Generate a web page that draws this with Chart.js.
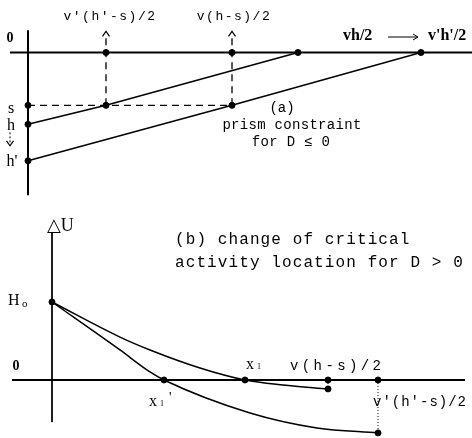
<!DOCTYPE html>
<html>
<head>
<meta charset="utf-8">
<script src="https://cdn.jsdelivr.net/npm/chart.js@4.4.0/dist/chart.umd.min.js"></script>
<style>
  html, body { margin: 0; padding: 0; background: #fff; }
  canvas { display: block; }
</style>
</head>
<body>
<canvas id="chartA" width="472" height="200"></canvas>
<canvas id="chartB" width="472" height="238"></canvas>
<script>
// (a) prism constraint for D <= 0
const aMarks = [0.78, 2.04, 2.70, 3.93];          // v'(h'-s)/2, v(h-s)/2, vh/2, v'h'/2
const aMarkLabels = ["v'(h'-s)/2", "v(h-s)/2", "vh/2", "v'h'/2"];
const aLevels = [-1.0, -1.36, -2.05];              // s, h, h'
const aLevelLabels = ['s', 'h', "h'"];

// (b) change of critical activity location for D > 0
const bH0 = 1.0;
const bRoots = [1.12, 1.93];                       // x1', x1
const bEnds = [2.76, 3.26];                        // v(h-s)/2, v'(h'-s)/2
const bEndLabels = ['v(h-s)/2', "v'(h'-s)/2"];
const bUpperX = [0, 0.68, 0.98, 1.48, 1.93, 2.31, 2.76];
const bUpperY = [1.0, 0.55, 0.385, 0.154, 0, -0.064, -0.115];
const bLowerX = [0, 0.68, 0.98, 1.12, 1.98, 2.65, 3.26];
const bLowerY = [1.0, 0.385, 0.103, 0, -0.423, -0.615, -0.679];

const MONO = '"Liberation Mono", "DejaVu Sans Mono", monospace';
const SERIF = '"Liberation Serif", "DejaVu Serif", serif';

Chart.defaults.animation = false;
Chart.defaults.color = '#000';

function seg(points, opts) {
  return Object.assign({
    data: points,
    showLine: true,
    borderColor: '#000',
    backgroundColor: '#000',
    borderWidth: 1.5,
    pointRadius: 0,
    clip: false
  }, opts || {});
}

function dots(points) {
  return {
    data: points,
    showLine: false,
    pointRadius: 3,
    pointBackgroundColor: '#000',
    pointBorderColor: '#000',
    clip: false
  };
}

function hiddenScales(xMin, xMax, yMin, yMax) {
  return {
    x: { type: 'linear', min: xMin, max: xMax, display: false },
    y: { type: 'linear', min: yMin, max: yMax, display: false }
  };
}

function text(ctx, str, x, y, font, align, spacing) {
  ctx.save();
  ctx.font = font;
  ctx.textAlign = align || 'center';
  ctx.textBaseline = 'middle';
  ctx.letterSpacing = (spacing || 0) + 'px';
  ctx.fillStyle = '#000';
  ctx.fillText(str, x, y);
  ctx.restore();
}

function chevron(ctx, x, y, dir) {
  // open arrow head, tip at (x, y); dir = -1 points up, 1 points down
  ctx.save();
  ctx.strokeStyle = '#000';
  ctx.lineWidth = 1.2;
  ctx.setLineDash([]);
  ctx.beginPath();
  ctx.moveTo(x - 3.5, y - dir * 5);
  ctx.lineTo(x, y);
  ctx.lineTo(x + 3.5, y - dir * 5);
  ctx.stroke();
  ctx.restore();
}

// ---------- chart (a) ----------
const s = aLevels[0], h = aLevels[1], hp = aLevels[2];
const arrowTop = 0.34;

const labelsA = {
  id: 'labelsA',
  afterDraw(chart) {
    const ctx = chart.ctx;
    const X = v => chart.scales.x.getPixelForValue(v);
    const Y = v => chart.scales.y.getPixelForValue(v);

    // arrow heads on the dashed verticals
    chevron(ctx, X(aMarks[0]), Y(arrowTop + 0.06), -1);
    chevron(ctx, X(aMarks[1]), Y(arrowTop + 0.06), -1);

    text(ctx, aMarkLabels[0], X(aMarks[0]) + 4, 17, '13px ' + MONO, 'center', 1.5);
    text(ctx, aMarkLabels[1], X(aMarks[1]) + 2, 17, '13px ' + MONO, 'center', 1.5);

    // vh/2 --> v'h'/2
    text(ctx, aMarkLabels[2], 343, 36, 'bold 16px ' + SERIF, 'left');
    ctx.save();
    ctx.strokeStyle = '#000';
    ctx.lineWidth = 1;
    ctx.beginPath();
    ctx.moveTo(388, 37);
    ctx.lineTo(418, 37);
    ctx.moveTo(413, 34);
    ctx.lineTo(418, 37);
    ctx.lineTo(413, 40);
    ctx.stroke();
    ctx.restore();
    text(ctx, aMarkLabels[3], 428, 36, 'bold 16px ' + SERIF, 'left');

    text(ctx, '0', 10, 38, 'bold 14px ' + SERIF);
    text(ctx, aLevelLabels[0], 11, Y(s) + 3, '16px ' + SERIF);
    text(ctx, aLevelLabels[1], 11, Y(h) + 1, '16px ' + SERIF);
    text(ctx, aLevelLabels[2], 12, Y(hp) + 1, '16px ' + SERIF);

    // h moves down to h'
    ctx.save();
    ctx.strokeStyle = '#000';
    ctx.lineWidth = 1;
    ctx.setLineDash([2, 2]);
    ctx.beginPath();
    ctx.moveTo(10, Y(h) + 8);
    ctx.lineTo(10, Y(hp) - 17);
    ctx.stroke();
    ctx.restore();
    chevron(ctx, 10, Y(hp) - 15, 1);

    text(ctx, '(a)', 282, 108, '14px ' + MONO);
    text(ctx, 'prism constraint', 292, 125, '14px ' + MONO, 'center', 0.3);
    text(ctx, 'for D \u2264 0', 291, 142, '14px ' + MONO, 'center', 0.3);
  }
};

new Chart(document.getElementById('chartA'), {
  type: 'scatter',
  data: {
    datasets: [
      seg([{ x: -0.18, y: 0 }, { x: 4.44, y: 0 }], { borderWidth: 2 }),
      seg([{ x: 0, y: 0.42 }, { x: 0, y: -2.70 }], { borderWidth: 2 }),
      seg([{ x: 0, y: h }, { x: aMarks[0], y: s }, { x: aMarks[2], y: 0 }]),
      seg([{ x: 0, y: hp }, { x: aMarks[1], y: s }, { x: aMarks[3], y: 0 }]),
      seg([{ x: 0, y: s }, { x: aMarks[1], y: s }], { borderDash: [7, 5], borderWidth: 1.3 }),
      seg([{ x: aMarks[0], y: s }, { x: aMarks[0], y: arrowTop }], { borderDash: [7, 5], borderWidth: 1.3 }),
      seg([{ x: aMarks[1], y: s }, { x: aMarks[1], y: arrowTop }], { borderDash: [7, 5], borderWidth: 1.3 }),
      dots(aMarks.map(v => ({ x: v, y: 0 }))
        .concat(aLevels.map(v => ({ x: 0, y: v })))
        .concat([{ x: aMarks[0], y: s }, { x: aMarks[1], y: s }]))
    ]
  },
  options: {
    responsive: false,
    devicePixelRatio: 1,
    layout: { padding: 0, autoPadding: false },
    scales: hiddenScales(-0.28, 4.44, -2.792, 0.994),
    plugins: { legend: { display: false }, tooltip: { enabled: false } }
  },
  plugins: [labelsA]
});

// ---------- chart (b) ----------
const labelsB = {
  id: 'labelsB',
  afterDraw(chart) {
    const ctx = chart.ctx;
    const X = v => chart.scales.x.getPixelForValue(v);
    const Y = v => chart.scales.y.getPixelForValue(v);

    text(ctx, '\u25B3U', 47, 26, '18px ' + SERIF, 'left');
    text(ctx, '(b) change of critical', 175, 40, '16px ' + MONO, 'left', 1.1);
    text(ctx, 'activity location for D > 0', 175, 63, '16px ' + MONO, 'left', 1.1);

    text(ctx, 'H', 8, Y(bH0) - 1, '16px ' + SERIF, 'left');
    text(ctx, 'o', 22, Y(bH0) + 2, '11px ' + SERIF, 'left');
    text(ctx, '0', 16, Y(0) - 14, 'bold 14px ' + SERIF);

    // x1 and x1'
    text(ctx, 'x', X(bRoots[1]) + 1, Y(0) - 15, '16px ' + SERIF, 'left');
    text(ctx, '1', X(bRoots[1]) + 12, Y(0) - 13, '8px ' + SERIF, 'left');
    text(ctx, 'x', X(bRoots[0]) - 15, Y(0) + 22, '16px ' + SERIF, 'left');
    text(ctx, '1', X(bRoots[0]) - 4, Y(0) + 24, '8px ' + SERIF, 'left');
    text(ctx, "'", X(bRoots[0]) + 5, Y(0) + 18, '14px ' + SERIF, 'left');

    text(ctx, bEndLabels[0], X(bEnds[0]) - 38, Y(0) - 14, '14px ' + MONO, 'left', 3.4);
    text(ctx, bEndLabels[1], X(bEnds[1]) - 5, Y(0) + 22, '14px ' + MONO, 'left', 1);
  }
};

new Chart(document.getElementById('chartB'), {
  type: 'scatter',
  data: {
    datasets: [
      seg([{ x: -0.40, y: 0 }, { x: 4.13, y: 0 }], { borderWidth: 2 }),
      seg([{ x: 0, y: 1.885 }, { x: 0, y: -0.54 }], { borderWidth: 1 }),
      seg(bUpperX.map((x, i) => ({ x, y: bUpperY[i] })), { cubicInterpolationMode: 'monotone' }),
      seg(bLowerX.map((x, i) => ({ x, y: bLowerY[i] })), { cubicInterpolationMode: 'monotone' }),
      seg([{ x: bEnds[0], y: 0 }, { x: bEnds[0], y: bUpperY[bUpperY.length - 1] }],
        { borderDash: [1, 2], borderWidth: 1 }),
      seg([{ x: bEnds[1], y: 0 }, { x: bEnds[1], y: bLowerY[bLowerY.length - 1] }],
        { borderDash: [1, 2], borderWidth: 1 }),
      dots([{ x: 0, y: bH0 }]
        .concat(bRoots.map(v => ({ x: v, y: 0 })))
        .concat(bEnds.map(v => ({ x: v, y: 0 })))
        .concat([{ x: bEnds[0], y: bUpperY[bUpperY.length - 1] },
                 { x: bEnds[1], y: bLowerY[bLowerY.length - 1] }]))
    ]
  },
  options: {
    responsive: false,
    devicePixelRatio: 1,
    layout: { padding: 0, autoPadding: false },
    scales: hiddenScales(-0.52, 4.20, -0.744, 2.308),
    plugins: { legend: { display: false }, tooltip: { enabled: false } }
  },
  plugins: [labelsB]
});
</script>
</body>
</html>
